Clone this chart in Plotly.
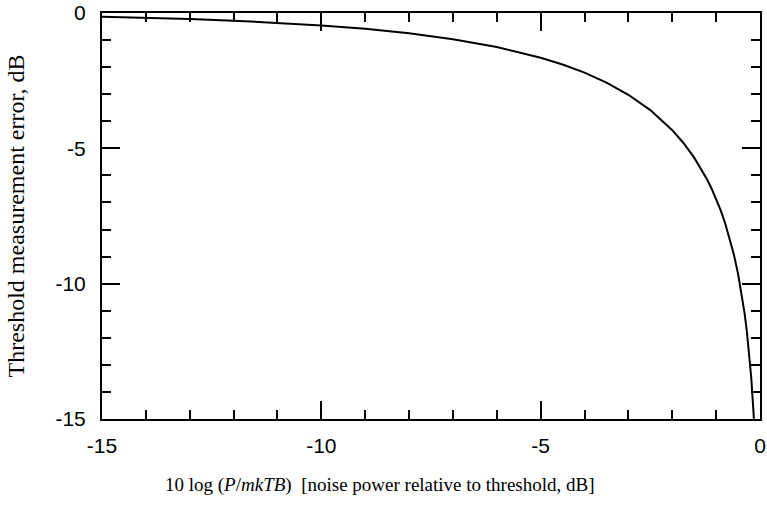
import plotly.graph_objects as go

# Values
noise_rel_db = [-15, -14, -13, -12, -11, -10, -9, -8, -7, -6, -5, -4.5, -4, -3.5, -3,
                -2.5, -2, -1.75, -1.5, -1.25, -1.2, -1.1, -1, -0.9, -0.8, -0.7, -0.6,
                -0.5, -0.4, -0.35, -0.3, -0.25, -0.2, -0.15, -0.14]
meas_error_db = [-0.14, -0.176, -0.223, -0.283, -0.359, -0.458, -0.584, -0.749, -0.967,
                 -1.256, -1.651, -1.903, -2.205, -2.571, -3.021, -3.588, -4.33, -4.793,
                 -5.345, -6.019, -6.173, -6.501, -6.867, -7.277, -7.741, -8.271, -8.894,
                 -9.637, -10.555, -11.11, -11.759, -12.522, -13.468, -14.70, -14.99]

axis_range = [-15, 0]
major_ticks = [-15, -10, -5, 0]
major_labels = ["-15", "-10", "-5", "0"]
minor_step = 1

x_title = "10 log (<i>P</i>/<i>mkTB</i>)  [noise power relative to threshold, dB]"
y_title = "Threshold measurement error, dB"

fig = go.Figure()
fig.add_trace(go.Scatter(x=noise_rel_db, y=meas_error_db, mode="lines",
                         line=dict(color="black", width=2), showlegend=False,
                         hoverinfo="skip"))

axis_common = dict(
    range=axis_range, automargin=False,
    showgrid=False, zeroline=False, showline=True, linecolor="black", linewidth=2,
    mirror="ticks", tickmode="array", tickvals=major_ticks, ticktext=major_labels,
    ticks="inside", ticklen=18, tickwidth=2, tickcolor="black",
    tickfont=dict(family="Liberation Sans, Arial, sans-serif", size=21, color="black"),
    minor=dict(tickmode="linear", tick0=0, dtick=minor_step, ticks="inside", ticklen=9,
               tickwidth=2, tickcolor="black", showgrid=False),
)

fig.update_xaxes(ticklabelstandoff=7, **axis_common)
fig.update_yaxes(ticklabelstandoff=10,
                 title=dict(text=y_title,
                            font=dict(family="Liberation Serif, Times New Roman, serif", size=24, color="black"),
                            standoff=24),
                 **axis_common)

fig.add_annotation(text=x_title, xref="paper", yref="paper", x=0.4225, y=-0.1626,
                   xanchor="center", yanchor="middle", showarrow=False,
                   font=dict(family="Liberation Serif, Times New Roman, serif", size=19, color="black"))

fig.update_layout(width=767, height=510, margin=dict(l=102, r=7, t=13, b=91),
                  plot_bgcolor="white", paper_bgcolor="white")

fig.write_html("out.html", config={"displayModeBar": False},
               post_script="document.body.style.margin='0';document.body.style.overflow='hidden';")
